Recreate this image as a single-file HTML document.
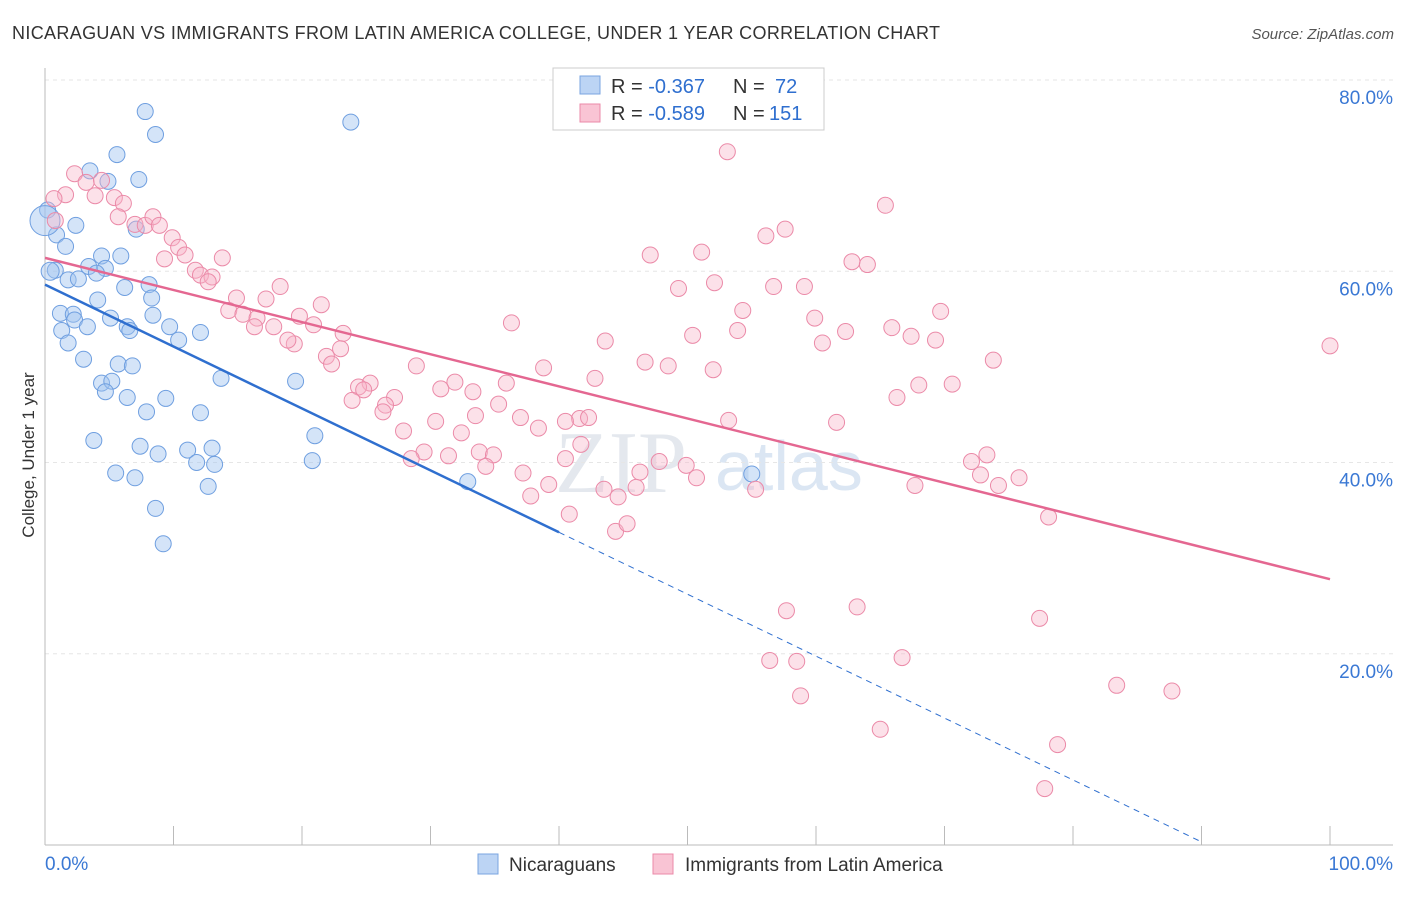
<!DOCTYPE html>
<html><head><meta charset="utf-8"><style>
body{margin:0;background:#fff;font-family:"Liberation Sans",sans-serif}
</style></head><body>
<svg id="c" width="1406" height="892" xmlns="http://www.w3.org/2000/svg" font-family="Liberation Sans, sans-serif">
<text x="12" y="39" font-size="18" fill="#333" textLength="928" lengthAdjust="spacing">NICARAGUAN VS IMMIGRANTS FROM LATIN AMERICA COLLEGE, UNDER 1 YEAR CORRELATION CHART</text>
<text x="1394" y="39" font-size="15" fill="#555" text-anchor="end" font-style="italic">Source: ZipAtlas.com</text>
<text transform="translate(34,455) rotate(-90)" font-size="17" fill="#333" text-anchor="middle">College, Under 1 year</text>
<text x="555" y="492" font-size="88" fill="#e4e8ee" font-family="Liberation Serif, serif">ZIP</text>
<text x="715" y="490" font-size="70" fill="#dbe6f3">atlas</text>
<g id="grid"></g><g id="ticks"></g><g id="pts"></g><g id="lines"></g>
<g>
<rect x="553" y="68" width="271" height="62" fill="#fff" stroke="#ccc"/>
<rect x="580" y="76" width="20" height="18" fill="#bcd4f4" stroke="#7aa5e0"/>
<rect x="580" y="104" width="20" height="18" fill="#f9c4d4" stroke="#eb8aa8"/>
<text x="611" y="93" font-size="20" fill="#333">R = <tspan fill="#2f6fcf">-0.367</tspan></text>
<text x="733" y="93" font-size="20" fill="#333">N =</text>
<text x="775" y="93" font-size="20" fill="#2f6fcf">72</text>
<text x="611" y="120" font-size="20" fill="#333">R = <tspan fill="#2f6fcf">-0.589</tspan></text>
<text x="733" y="120" font-size="20" fill="#333">N =</text>
<text x="769" y="120" font-size="20" fill="#2f6fcf">151</text>
</g>
<g>
<rect x="478" y="854" width="20" height="20" fill="#bcd4f4" stroke="#7aa5e0"/>
<text x="509" y="871" font-size="19" fill="#333">Nicaraguans</text>
<rect x="653" y="854" width="20" height="20" fill="#f9c4d4" stroke="#eb8aa8"/>
<text x="685" y="871" font-size="19" fill="#333">Immigrants from Latin America</text>
</g>
</svg>
<script>
const yTicks=[20,40,60,80];
const xTickVals=[0,10,20,30,40,50,60,70,80,90,100];
const blueX=[7.8,8.6,23.8,5.6,3.5,7.3,4.9,0.2,2.4,0.9,7.1,1.6,4.4,5.9,0.8,3.4,4.7,4.0,1.8,2.6,6.2,8.1,4.1,8.3,1.2,2.2,5.1,8.4,2.3,3.3,6.4,6.6,9.7,1.3,12.1,10.4,1.8,3.0,5.7,6.8,13.7,19.5,4.4,5.2,4.7,6.4,9.4,7.9,12.1,3.8,7.4,21.0,11.1,13.0,8.8,11.8,13.2,20.8,5.5,7.0,12.7,32.9,8.6,9.2,55.0,0.0,0.4];
const blueY=[76.7,74.3,75.6,72.2,70.5,69.6,69.4,66.4,64.8,63.8,64.4,62.6,61.6,61.6,60.1,60.5,60.3,59.8,59.1,59.2,58.3,58.6,57.0,57.2,55.6,55.5,55.1,55.4,54.9,54.2,54.2,53.8,54.2,53.8,53.6,52.8,52.5,50.8,50.3,50.1,48.8,48.5,48.3,48.5,47.4,46.8,46.7,45.3,45.2,42.3,41.7,42.8,41.3,41.5,40.9,40.0,39.8,40.2,38.9,38.4,37.5,38.0,35.2,31.5,38.8,65.3,60.0];
const blueR=[8,8,8,8,8,8,8,8,8,8,8,8,8,8,8,8,8,8,8,8,8,8,8,8,8,8,8,8,8,8,8,8,8,8,8,8,8,8,8,8,8,8,8,8,8,8,8,8,8,8,8,8,8,8,8,8,8,8,8,8,8,8,8,8,8,15,9];
const pinkPx=[[727,152],[885,205],[74,174],[86,182],[101,180],[65,195],[95,196],[115,197],[54,198],[55,220],[123,203],[118,217],[135,224],[145,225],[153,217],[160,225],[172,238],[179,247],[185,255],[164,259],[222,258],[650,255],[702,252],[785,229],[766,236],[852,262],[867,264],[195,270],[200,275],[212,277],[208,282],[280,286],[236,298],[266,299],[229,310],[243,314],[257,318],[255,327],[274,327],[300,316],[321,305],[313,325],[294,344],[288,340],[343,333],[340,349],[326,356],[332,364],[678,288],[715,283],[743,310],[773,286],[804,286],[511,323],[605,341],[693,335],[738,330],[815,318],[823,343],[846,331],[892,328],[911,336],[936,340],[941,311],[993,360],[645,362],[668,366],[713,370],[416,366],[544,368],[595,378],[506,383],[455,382],[370,383],[359,387],[364,390],[395,397],[352,400],[386,405],[383,412],[441,389],[473,392],[498,404],[520,417],[539,428],[475,416],[461,433],[580,418],[589,417],[566,421],[404,431],[436,421],[728,420],[837,422],[897,397],[919,385],[952,384],[1330,346],[479,452],[424,452],[411,459],[448,456],[493,455],[565,459],[581,444],[659,461],[686,465],[486,466],[523,473],[697,478],[640,472],[972,461],[987,455],[981,475],[998,485],[1019,478],[915,485],[756,489],[604,489],[618,497],[636,487],[549,484],[531,496],[569,514],[616,531],[627,524],[1048,517],[786,611],[857,607],[1040,618],[770,660],[797,661],[902,658],[801,696],[1117,685],[1172,691],[880,729],[1058,745],[1045,789]];
const pinkX=pinkPx.map(p=>+((p[0]-45)/12.85).toFixed(1));
const pinkY=pinkPx.map(p=>+((845-p[1])/9.565).toFixed(1));
const blueFit=[58.6,32.7];
const pinkFit=[61.4,27.8];
const X0=45,X1=1330,Y0=845,Y80=80;
const sx=v=>X0+(X1-X0)*v/100;
const sy=v=>Y0+(Y80-Y0)*v/80;
const NS="http://www.w3.org/2000/svg";
function mk(tag,attrs,parent){const e=document.createElementNS(NS,tag);for(const k in attrs)e.setAttribute(k,attrs[k]);document.getElementById(parent).appendChild(e);return e;}
yTicks.forEach(t=>{
 const l=mk('line',{x1:45,x2:1393,y1:sy(t),y2:sy(t),stroke:'#e6e6e6','stroke-dasharray':'4,4'},'grid');
 
 
 const tx=mk('text',{x:1393,y:sy(t)+24,'font-size':19,fill:'#3a78d4','text-anchor':'end'},'ticks');tx.textContent=t.toFixed(1)+'%';
 
 
});
const ax=mk('line',{x1:45,x2:45,y1:68,y2:845,stroke:'#bbb'},'ticks');


const bx=mk('line',{x1:45,x2:1393,y1:845,y2:845,stroke:'#bbb'},'ticks');


xTickVals.forEach(t=>{const l=mk('line',{x1:sx(t),x2:sx(t),y1:826,y2:845,stroke:'#bbb'},'ticks');
 
 });
[['0.0%',45,'start'],['100.0%',1393,'end']].forEach(a=>{const t=mk('text',{x:a[1],y:870,'font-size':19,fill:'#3a78d4','text-anchor':a[2]},'ticks');t.textContent=a[0];
 
 });
blueX.forEach((v,i)=>{const c=mk('circle',{cx:sx(v),cy:sy(blueY[i]),r:blueR[i],fill:'rgba(160,196,240,0.45)',stroke:'#6f9fe0','stroke-width':1},'pts');
 
 });
pinkX.forEach((v,i)=>{const c=mk('circle',{cx:sx(v),cy:sy(pinkY[i]),r:8,fill:'rgba(248,180,200,0.4)',stroke:'#eb8aa8','stroke-width':1},'pts');
 
 });
const bs=(blueFit[1]-blueFit[0])/40;
const b1=mk('line',{x1:sx(0),y1:sy(blueFit[0]),x2:sx(40),y2:sy(blueFit[1]),stroke:'#2f6fcf','stroke-width':2.5},'lines');


const b2=mk('line',{x1:sx(40),y1:sy(blueFit[1]),x2:sx(90),y2:sy(blueFit[1]+bs*50),stroke:'#2f6fcf','stroke-width':1,'stroke-dasharray':'6,5'},'lines');


const p1=mk('line',{x1:sx(0),y1:sy(pinkFit[0]),x2:sx(100),y2:sy(pinkFit[1]),stroke:'#e46791','stroke-width':2.5},'lines');


</script>
</body></html>
